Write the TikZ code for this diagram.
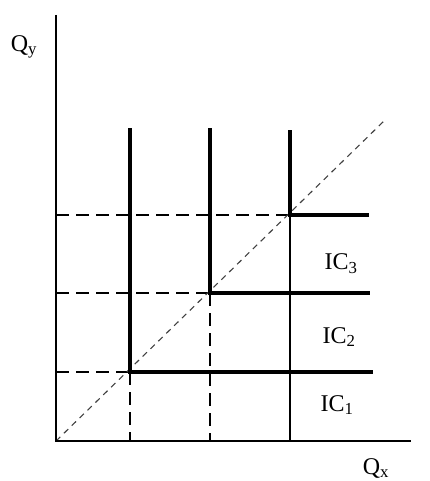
\documentclass[tikz,border=0pt]{standalone}
\usepackage{fontspec}
\setmainfont{Liberation Serif}
\begin{document}
\begin{tikzpicture}[x=1pt,y=-1pt,
  axis/.style={line width=2pt},
  icline/.style={line width=4.2pt},
  thin/.style={line width=1.6pt},
  guide/.style={line width=1.5pt, dash pattern=on 13pt off 7pt},
  diag/.style={line width=1.1pt, black!75, dash pattern=on 6pt off 5pt},
  lbl/.style={font=\fontsize{24}{27}\selectfont, inner sep=0pt}]
\useasboundingbox (0,0) rectangle (430,481);
% key points
\coordinate (O) at (56,441);
\coordinate (ytop) at (56,15);
\coordinate (xend) at (411,441);
\coordinate (A) at (130,372);
\coordinate (B) at (210,293);
\coordinate (C) at (290,215);
\coordinate (Atop) at (130,130);
\coordinate (Btop) at (210,130);
\coordinate (Ctop) at (290,132);
\coordinate (Aend) at (371,372);
\coordinate (Bend) at (368,293);
\coordinate (Cend) at (367,215);
\coordinate (Ay) at (56,372);
\coordinate (By) at (56,293);
\coordinate (Cy) at (56,215);
\coordinate (Ax) at (130,441);
\coordinate (Bx) at (210,441);
\coordinate (Cx) at (290,441);
\coordinate (Dend) at (384,121);
% guides
\draw[guide] (Cy) -- (C);
\draw[guide] (By) -- (B);
\draw[guide] (Ay) -- (A);
\draw[guide] (A) -- (Ax);
\draw[guide] (B) -- (Bx);
\draw[thin] (C) -- (Cx);
\draw[diag] (O) -- (Dend);
% indifference curves
\draw[icline, line cap=rect] (Atop) -- (A) -- (Aend);
\draw[icline, line cap=rect] (Btop) -- (B) -- (Bend);
\draw[icline, line cap=rect] (Ctop) -- (C) -- (Cend);
% axes
\draw[axis] (ytop) -- (O) -- (xend);
% labels
\node[lbl] (qy) at (24,47) {Q\textsubscript{y}};
\node[lbl] (qx) at (376,468) {Q\textsubscript{x}};
\node[lbl] (ic3) at (341,264) {IC\textsubscript{3}};
\node[lbl] (ic2) at (339,337) {IC\textsubscript{2}};
\node[lbl] (ic1) at (337,405) {IC\textsubscript{1}};
\end{tikzpicture}
\end{document}
